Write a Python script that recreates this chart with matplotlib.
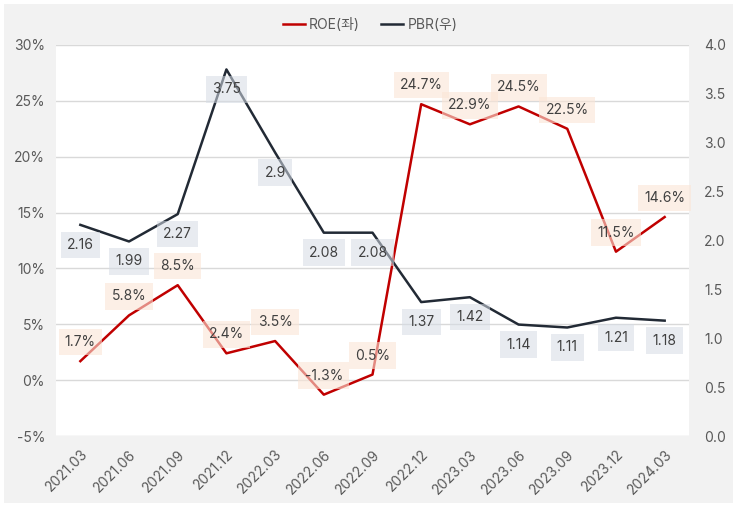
import matplotlib.pyplot as plt
from matplotlib.patches import Rectangle
from matplotlib.ticker import FuncFormatter

plt.rcParams['font.family'] = ['Inter', 'Noto Sans CJK KR', 'DejaVu Sans']

quarters = ['2021.03', '2021.06', '2021.09', '2021.12', '2022.03', '2022.06', '2022.09',
            '2022.12', '2023.03', '2023.06', '2023.09', '2023.12', '2024.03']
roe = [1.7, 5.8, 8.5, 2.4, 3.5, -1.3, 0.5, 24.7, 22.9, 24.5, 22.5, 11.5, 14.6]
pbr = [2.16, 1.99, 2.27, 3.75, 2.9, 2.08, 2.08, 1.37, 1.42, 1.14, 1.11, 1.21, 1.18]
pbr_labels = ['2.16', '1.99', '2.27', '3.75', '2.9', '2.08', '2.08', '1.37', '1.42',
              '1.14', '1.11', '1.21', '1.18']

red = '#c00000'
navy = '#222a35'
txt = '#404040'
tick_c = '#595959'

fig = plt.figure(figsize=(7.4, 5.12), dpi=100)
fig.patch.set_facecolor('white')
fig.patches.append(Rectangle((4 / 740, 1 - 503 / 512), 729 / 740, 499 / 512,
                             transform=fig.transFigure, facecolor='#f2f2f2',
                             edgecolor='none', zorder=-10))

ax = fig.add_axes([56 / 740, 1 - 436 / 512, 633 / 740, 391 / 512])
ax.set_facecolor('white')
ax2 = ax.twinx()

x = list(range(len(quarters)))
l1, = ax.plot(x, roe, color=red, lw=1.8, label='ROE(좌)', zorder=3)
l2, = ax2.plot(x, pbr, color=navy, lw=1.8, label='PBR(우)', zorder=3)

ax.set_xlim(-0.5, len(quarters) - 0.5)
ax.set_ylim(-5, 30)
ax.set_yticks(range(-5, 31, 5))
ax.yaxis.set_major_formatter(FuncFormatter(lambda v, p: f'{v:.0f}%'))
ax2.set_ylim(0, 4)
ax2.set_yticks([i * 0.5 for i in range(9)])
ax2.yaxis.set_major_formatter(FuncFormatter(lambda v, p: f'{v:.1f}'))

ax.grid(axis='y', color='#d9d9d9', lw=1)
ax.set_axisbelow(True)
for a in (ax, ax2):
    for s in a.spines.values():
        s.set_visible(False)
    a.tick_params(length=0, labelsize=10, labelcolor=tick_c)
ax.tick_params(axis='y', pad=8)
ax2.tick_params(axis='y', pad=11)
ax.set_xticks(x)
ax.set_xticklabels(quarters, rotation=45, ha='right', rotation_mode='anchor')
ax.tick_params(axis='x', pad=8)

ax2.set_zorder(ax.get_zorder() + 1)
ax2.patch.set_visible(False)

for i, v in enumerate(roe):
    ax.annotate(f'{v}%', xy=(i, v), xytext=(0, 19), textcoords='offset pixels',
                ha='center', va='center', fontsize=10, color=txt, zorder=5,
                bbox=dict(boxstyle='square,pad=0.45', facecolor='#fbe5d6',
                          edgecolor='none', alpha=0.6))
for i, v in enumerate(pbr):
    ax2.annotate(pbr_labels[i], xy=(i, v), xytext=(0, -20), textcoords='offset pixels',
                 ha='center', va='center', fontsize=10, color=txt, zorder=5,
                 bbox=dict(boxstyle='square,pad=0.45', facecolor='#d6dce5',
                           edgecolor='none', alpha=0.55))

fig.legend(handles=[l1, l2], loc='upper center', bbox_to_anchor=(0.5, 0.99), ncol=2,
           frameon=False, fontsize=10, labelcolor=tick_c, handlelength=1.6,
           handletextpad=0.3, columnspacing=1.5)

fig.savefig('out.png', dpi=100)
